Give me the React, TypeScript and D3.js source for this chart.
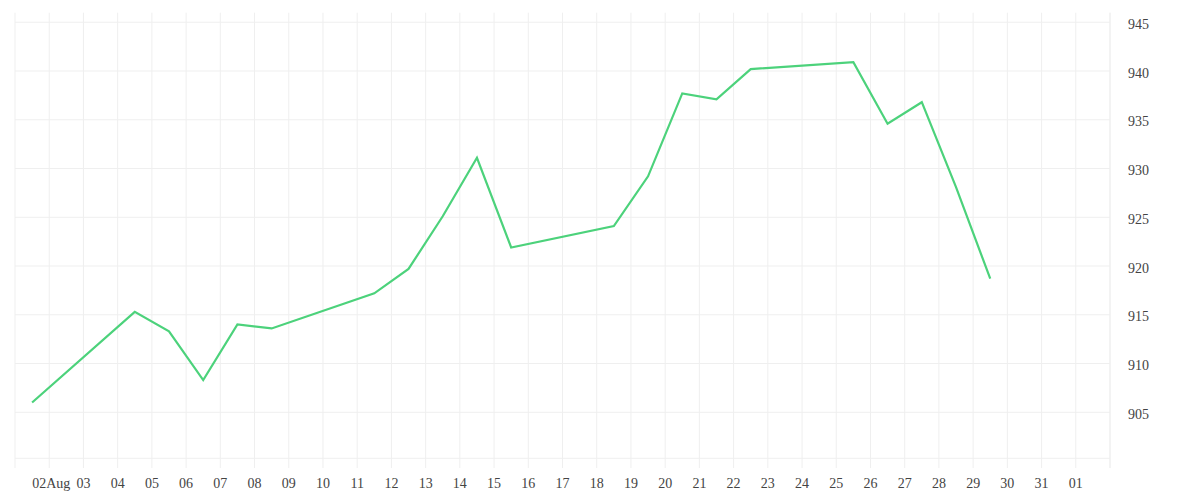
import React from "react";
import * as d3 from "d3";

const dates: string[] = [
  "2025-08-01", "2025-08-04", "2025-08-05", "2025-08-06", "2025-08-07", "2025-08-08",
  "2025-08-11", "2025-08-12", "2025-08-13", "2025-08-14", "2025-08-15",
  "2025-08-18", "2025-08-19", "2025-08-20", "2025-08-21", "2025-08-22",
  "2025-08-25", "2025-08-26", "2025-08-27", "2025-08-28", "2025-08-29",
];
const values: number[] = [
  906.0, 915.3, 913.3, 908.3, 914.0, 913.6,
  917.2, 919.7, 925.1, 931.1, 921.9,
  924.1, 929.2, 937.7, 937.1, 940.2,
  940.9, 934.6, 936.8, 928.1, 918.7,
];
const yTicks: number[] = [905, 910, 915, 920, 925, 930, 935, 940, 945];
const xStart = "2025-08-01";
const xEnd = "2025-09-02";

const W = 1200;
const H = 500;
const left = 15;
const right = 1110;
const top = 12.7;
const bottom = 458.3;

export default function App() {
  const parse = (s: string) => new Date(s + "T00:00:00Z");
  const x = d3.scaleUtc().domain([parse(xStart), parse(xEnd)]).range([left, right]);
  const y = d3.scaleLinear().domain([900.28, 945.98]).range([bottom, top]);
  const days = d3.utcDay.range(parse(xStart), d3.utcDay.offset(parse(xEnd), 1));
  const pts = dates.map((d, i) => ({ t: d3.utcHour.offset(parse(d), 12), v: values[i] }));
  const line = d3
    .line<{ t: Date; v: number }>()
    .x((d) => x(d.t))
    .y((d) => y(d.v));
  const fmt = (d: Date) => {
    const day = d3.utcFormat("%d")(d);
    if (d.getUTCDate() === 2 && d.getUTCMonth() === 7) return day + "Aug";
    return day;
  };
  const grid = "#efefef";
  return (
    <svg
      width={W}
      height={H}
      style={{ position: "absolute", left: 0, top: 0, background: "#fff" }}
      fontFamily="'Liberation Serif', serif"
      fontSize={14}
    >
      {days.map((d, i) => (
        <line key={"v" + i} x1={x(d)} x2={x(d)} y1={top} y2={468} stroke={grid} strokeWidth={1} />
      ))}
      {yTicks.map((t) => (
        <line key={"h" + t} x1={left} x2={right} y1={y(t)} y2={y(t)} stroke={grid} strokeWidth={1} />
      ))}
      <line x1={left} x2={right} y1={bottom} y2={bottom} stroke={grid} strokeWidth={1} />
      <line x1={right} x2={right} y1={top} y2={468} stroke={grid} strokeWidth={1} />
      {days
        .filter((d) => d > parse(xStart) && d < parse(xEnd))
        .map((d, i) => (
          <text key={"xl" + i} x={x(d) + (fmt(d).length > 2 ? 2 : 0)} y={488} textAnchor="middle" fill="#444">
            {fmt(d)}
          </text>
        ))}
      {yTicks.map((t) => (
        <text key={"yl" + t} x={1128} y={y(t) + 6.5} textAnchor="start" fill="#444">
          {t}
        </text>
      ))}
      <path d={line(pts) || ""} fill="none" stroke="#4cd27b" strokeWidth={2.2} strokeLinejoin="miter" />
    </svg>
  );
}
